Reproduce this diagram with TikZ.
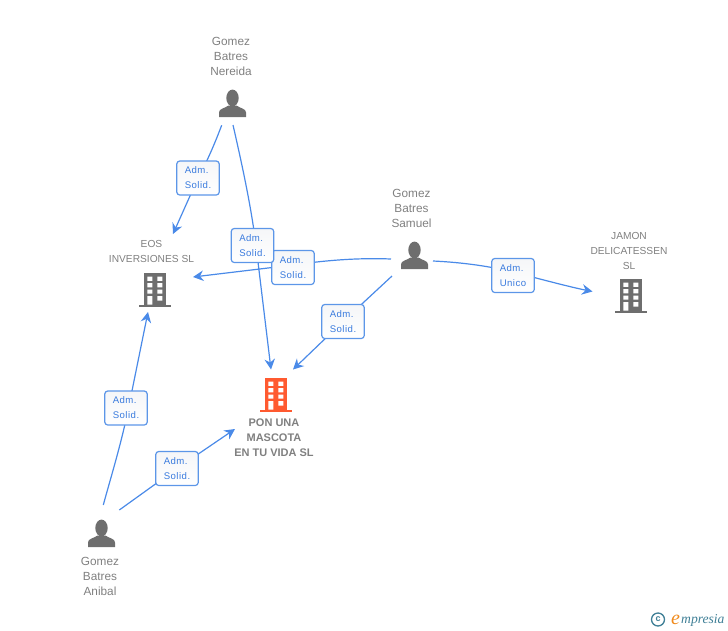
\documentclass[tikz,border=0pt]{standalone}
\usepackage{fontspec}
\setmainfont{Liberation Sans}
\newfontfamily\lblfont[LetterSpace=5]{Liberation Sans}
\newfontfamily\logofont{Liberation Serif}
\usetikzlibrary{arrows.meta,shadings}
\definecolor{iconG}{HTML}{6E6E6E}
\definecolor{txtG}{HTML}{808080}
\definecolor{linkB}{HTML}{4A8AE8}
\definecolor{boxB}{HTML}{5C96E8}
\definecolor{lblB}{HTML}{3A7BDE}
\definecolor{boxTop}{HTML}{F5F6F8}
\definecolor{orangeB}{HTML}{FF5A30}
\definecolor{logoT}{HTML}{3F7F96}
\definecolor{logoO}{HTML}{F08A1C}
\tikzset{
  x=1pt,y=-1pt,
  iconnode/.style={inner sep=0pt,minimum size=30pt},
  persontxt/.style={align=center,text=txtG,font=\fontsize{11.8}{15}\selectfont,inner sep=0pt},
  comptxt/.style={align=center,text=txtG,font=\fontsize{10.2}{15}\selectfont,inner sep=0pt},
  maintxt/.style={align=center,text=txtG,font=\fontsize{11}{15}\selectfont\bfseries,inner sep=0pt},
  lbox/.style={draw=boxB,line width=1.2pt,rounded corners=3pt,top color=boxTop,bottom color=white,
    minimum width=42.5pt,minimum height=34pt,inner sep=0pt,align=left,text=lblB,
    font=\fontsize{9.6}{15}\selectfont\lblfont},
  link/.style={draw=linkB,line width=1.2pt},
  arrowlink/.style={link,-{Stealth[length=10.5pt,width=10.5pt,inset=3.5pt]}},
  person/.pic={
    \fill[iconG] (0,-5.5) ellipse[x radius=6.2,y radius=8.4];
    \fill[iconG] (-13.5,13.5) -- (-13.5,9) .. controls (-13.5,5) and (-8,5) .. (-4,2) -- (4,2)
      .. controls (8,5) and (13.5,5) .. (13.5,9) -- (13.5,13.5) -- cycle;
  },
  building/.pic={
    \fill[pic actions] (-11,-17) rectangle (11,15);
    \fill[pic actions] (-16,14.5) rectangle (16,17);
    \fill[white] (-7.7,-13.5) rectangle (-2.7,-9.2)
                 (2.3,-13.5) rectangle (7.3,-9.2)
                 (-7.7,-7) rectangle (-2.7,-2.7)
                 (2.3,-7) rectangle (7.3,-2.7)
                 (-7.7,-0.3) rectangle (-2.7,3.7)
                 (2.3,-0.3) rectangle (7.3,3.7)
                 (-7.7,6.2) rectangle (-2.7,14.5)
                 (2.3,6.2) rectangle (7.3,10.5);
  },
}
\begin{document}
\begin{tikzpicture}
\useasboundingbox (0,0) rectangle (728,630);

% icons
\node[iconnode] (nereida) at (232.5,103.5) {};
\pic at (nereida.center) {person};
\node[iconnode] (samuel) at (414.5,255.5) {};
\pic at (samuel.center) {person};
\node[iconnode] (anibal) at (101.5,533.5) {};
\pic at (anibal.center) {person};
\node[iconnode] (eos) at (155,290) {};
\pic[fill=iconG] at (eos.center) {building};
\node[iconnode] (jamon) at (631,296) {};
\pic[fill=iconG] at (jamon.center) {building};
\node[iconnode] (pon) at (276,395) {};
\pic[fill=orangeB] at (pon.center) {building};

% texts
\node[persontxt] (tnereida) at (231,56) {Gomez\\Batres\\Nereida};
\node[persontxt] (tsamuel) at (411.5,208) {Gomez\\Batres\\Samuel};
\node[persontxt] (tanibal) at (100,576) {Gomez\\Batres\\Anibal};
\node[comptxt] (teos) at (151.5,251.5) {EOS\\INVERSIONES SL};
\node[comptxt] (tjamon) at (629,250.5) {JAMON\\DELICATESSEN\\SL};
\node[maintxt] (tpon) at (274,438) {PON UNA\\MASCOTA\\EN TU VIDA SL};

% connector ends
\coordinate (nA) at (221.7,125.3);
\coordinate (nB) at (233,125);
\coordinate (sA) at (391,259);
\coordinate (sB) at (392,276);
\coordinate (sC) at (433,261);
\coordinate (aA) at (103.3,505);
\coordinate (aB) at (119.3,510);
\coordinate (eosTop) at (173,234);
\coordinate (eosSide) at (193,277);
\coordinate (eosBot) at (148,312);
\coordinate (ponTopL) at (271,369.5);
\coordinate (ponTopR) at (293,369.5);
\coordinate (ponLeft) at (235,429);
\coordinate (jamonLeft) at (592.5,291.5);

% label box centres
\coordinate (l1) at (198,178);
\coordinate (l2) at (252.5,245.5);
\coordinate (l3) at (293,267.5);
\coordinate (l4) at (343,321.5);
\coordinate (l5) at (513,275.5);
\coordinate (l6) at (126,408);
\coordinate (l7) at (177,468.5);
% points where the connectors pass under the boxes
\coordinate (p2) at (256,245.5);
\coordinate (p3) at (293,265);
\coordinate (p5) at (513,272);
\coordinate (p6) at (128.5,408);

% connectors
\draw[link] (nA) .. controls (216,140) and (209,158) .. (l1);
\draw[arrowlink] (l1) -- (eosTop);
\draw[link] (nB) .. controls (241,160) and (251,205) .. (p2);
\draw[arrowlink] (p2) -- (ponTopL);
\draw[link] (sA) .. controls (365,258) and (335,259) .. (p3);
\draw[arrowlink] (p3) -- (eosSide);
\draw[link] (sB) -- (l4);
\draw[arrowlink] (l4) -- (ponTopR);
\draw[link] (sC) .. controls (455,262) and (485,265) .. (p5);
\draw[arrowlink] (p5) .. controls (540,279) and (570,287) .. (jamonLeft);
\draw[link] (aA) .. controls (110,480) and (121,445) .. (p6);
\draw[arrowlink] (p6) -- (eosBot);
\draw[link] (aB) -- (l7);
\draw[arrowlink] (l7) -- (ponLeft);

% labels
\node[lbox] (box1) at (l1) {Adm.\\Solid.};
\node[lbox] (box3) at (l3) {Adm.\\Solid.};
\node[lbox] (box2) at (l2) {Adm.\\Solid.};
\node[lbox] (box4) at (l4) {Adm.\\Solid.};
\node[lbox] (box5) at (l5) {Adm.\\Unico};
\node[lbox] (box6) at (l6) {Adm.\\Solid.};
\node[lbox] (box7) at (l7) {Adm.\\Solid.};

% logo
\node[circle,draw=logoT,line width=1.3pt,minimum size=13pt,inner sep=0pt,text=logoT,font=\fontsize{9}{9}\selectfont\bfseries] (logoc) at (658,619.5) {c};
\node[inner sep=0pt,text=logoO,font=\fontsize{20}{20}\logofont\itshape,anchor=base] (logoe) at (675.5,624) {e};
\node[inner sep=0pt,text=logoT,font=\fontsize{13.6}{14}\logofont\itshape,anchor=base west] (logot) at (681,623.5) {mpresia};
\end{tikzpicture}
\end{document}
